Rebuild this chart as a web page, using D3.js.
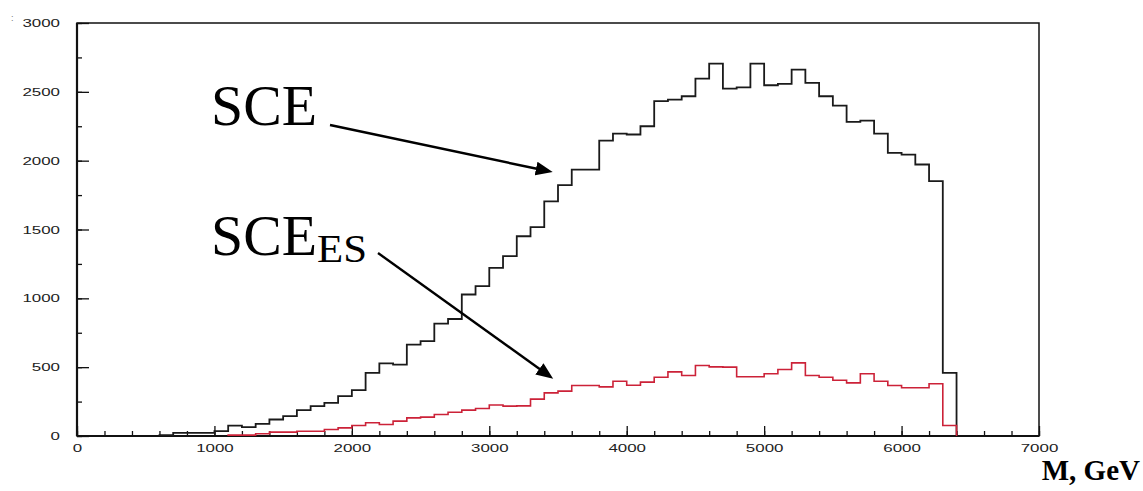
<!DOCTYPE html>
<html>
<head>
<meta charset="utf-8">
<script src="https://cdn.jsdelivr.net/npm/d3@7"></script>
<style>
  body { margin: 0; background: #fff; }
  svg { display: block; }
</style>
</head>
<body>
<div id="chart"></div>
<script>
// histogram binning, GeV
const BIN_WIDTH = 100
const sceFirstBin = 600
const sceCounts = [6, 23, 23, 23, 35, 76, 64, 88, 120, 144, 188, 217, 241, 289, 333, 459, 527, 519, 664, 689,
  817, 850, 1028, 1088, 1221, 1306, 1451, 1517, 1705, 1822, 1935, 1935, 2146, 2197, 2190, 2250, 2432, 2444, 2468, 2596,
  2705, 2524, 2533, 2705, 2548, 2558, 2662, 2565, 2468, 2400, 2282, 2291, 2197, 2056, 2044, 1972, 1851, 459]
const sceEsFirstBin = 1100
const sceEsCounts = [6, 6, 16, 28, 28, 35, 35, 47, 59, 76, 96, 84, 108, 132, 137, 156, 173, 188, 200, 225,
  217, 219, 268, 313, 326, 367, 367, 357, 398, 369, 391, 427, 466, 439, 512, 502, 500, 430, 430, 452,
  483, 531, 439, 427, 405, 386, 452, 398, 367, 350, 350, 379, 76]
const xMajorTicks = [0, 1000, 2000, 3000, 4000, 5000, 6000, 7000]
const yMajorTicks = [0, 500, 1000, 1500, 2000, 2500, 3000]

const WIDTH = 1143
const HEIGHT = 491
const frame = { left: 77, right: 1039, top: 23, bottom: 436 }
const DIGIT_WIDTH = 9.4 // the old plotting font is wide and short

const svg = d3.select('#chart').append('svg')
                               .attr('width', WIDTH)
                               .attr('height', HEIGHT)

const x = d3.scaleLinear().domain([0, 7000]).range([frame.left, frame.right])
const y = d3.scaleLinear().domain([0, 3000]).range([frame.bottom, frame.top])

// minor ticks first, then labelled major ticks
const styleAxis = g => {
  g.select('.domain').remove()
  g.selectAll('.tick line').attr('stroke', '#111').attr('stroke-width', 1.3)
  g.selectAll('.tick text')
    .attr('fill', '#222')
    .attr('textLength', d => String(d).length * DIGIT_WIDTH)
    .attr('lengthAdjust', 'spacingAndGlyphs')
    .style('font-family', '"Liberation Sans", Arial, sans-serif')
    .style('font-size', '11px')
}

svg.append('g')
   .attr('transform', `translate(0,${frame.bottom})`)
   .call(d3.axisBottom(x).tickValues(d3.range(0, 7001, 200)).tickSize(-5).tickFormat(''))
   .call(styleAxis)
svg.append('g')
   .attr('transform', `translate(0,${frame.bottom})`)
   .call(d3.axisBottom(x).tickValues(xMajorTicks).tickSize(-10).tickFormat(d3.format('d')))
   .call(styleAxis)
   .call(g => g.selectAll('.tick text').attr('dy', '0.71em').attr('y', 8))

svg.append('g')
   .attr('transform', `translate(${frame.left},0)`)
   .call(d3.axisLeft(y).tickValues(d3.range(0, 3001, 250)).tickSize(-5).tickFormat(''))
   .call(styleAxis)
svg.append('g')
   .attr('transform', `translate(${frame.left},0)`)
   .call(d3.axisLeft(y).tickValues(yMajorTicks).tickSize(-12).tickFormat(d3.format('d')))
   .call(styleAxis)
   .call(g => g.selectAll('.tick text').attr('x', -17))

// frame box
svg.append('rect')
   .attr('x', frame.left)
   .attr('y', frame.top)
   .attr('width', frame.right - frame.left)
   .attr('height', frame.bottom - frame.top)
   .attr('fill', 'none')
   .attr('stroke', '#111')
   .attr('stroke-width', 1.5)
svg.append('line')
   .attr('x1', frame.left).attr('y1', frame.top)
   .attr('x2', frame.left).attr('y2', frame.bottom)
   .attr('stroke', '#111').attr('stroke-width', 2.2)
svg.append('line')
   .attr('x1', frame.left).attr('y1', frame.bottom)
   .attr('x2', frame.right).attr('y2', frame.bottom)
   .attr('stroke', '#111').attr('stroke-width', 2.2)

// stray mark in the corner of the scan
svg.append('text')
   .attr('x', 11)
   .attr('y', 21)
   .attr('fill', '#777')
   .style('font-family', '"Liberation Sans", Arial, sans-serif')
   .style('font-size', '9px')
   .text(':')

const stepPoints = (firstBin, counts) => {
  const pts = [[firstBin, 0]]
  counts.forEach((c, i) => {
    const lo = firstBin + i * BIN_WIDTH
    pts.push([lo, c], [lo + BIN_WIDTH, c])
  })
  pts.push([firstBin + counts.length * BIN_WIDTH, 0])
  return pts
}

const line = d3.line().x(d => x(d[0])).y(d => y(d[1]))

svg.append('path')
   .attr('d', line(stepPoints(sceFirstBin, sceCounts)))
   .attr('fill', 'none')
   .attr('stroke', '#1a1a1a')
   .attr('stroke-width', 1.8)
svg.append('path')
   .attr('d', line(stepPoints(sceEsFirstBin, sceEsCounts)))
   .attr('fill', 'none')
   .attr('stroke', '#cc2238')
   .attr('stroke-width', 1.6)

// annotations
svg.append('defs')
     .append('marker')
       .attr('id', 'arrow-head')
       .attr('markerUnits', 'userSpaceOnUse')
       .attr('markerWidth', 18)
       .attr('markerHeight', 14)
       .attr('refX', 2)
       .attr('refY', 7)
       .attr('orient', 'auto')
         .append('path')
           .attr('d', 'M0,0 L17,7 L0,14 Z')
           .attr('fill', '#000')

const arrow = (x1, y1, x2, y2) => svg.append('line')
  .attr('x1', x1).attr('y1', y1)
  .attr('x2', x2).attr('y2', y2)
  .attr('stroke', '#000')
  .attr('stroke-width', 2.4)
  .attr('marker-end', 'url(#arrow-head)')

arrow(330, 125, 538, 169)
arrow(378, 253, 541, 370)

const serif = '"Liberation Serif", "DejaVu Serif", serif'
svg.append('text')
   .attr('x', 211)
   .attr('y', 125)
   .attr('textLength', 106)
   .attr('lengthAdjust', 'spacingAndGlyphs')
   .style('font-family', serif)
   .style('font-size', '57px')
   .text('SCE')
const es = svg.append('text')
   .attr('x', 211)
   .attr('y', 255)
   .style('font-family', serif)
   .style('font-size', '57px')
es.append('tspan')
  .attr('textLength', 106)
  .attr('lengthAdjust', 'spacingAndGlyphs')
  .text('SCE')
es.append('tspan')
  .attr('dy', 7)
  .attr('textLength', 50)
  .attr('lengthAdjust', 'spacingAndGlyphs')
  .style('font-size', '39px')
  .text('ES')

svg.append('text')
   .attr('x', 1140)
   .attr('y', 480)
   .attr('text-anchor', 'end')
   .style('font-family', serif)
   .style('font-weight', 'bold')
   .style('font-size', '29px')
   .text('M, GeV')
</script>
</body>
</html>
